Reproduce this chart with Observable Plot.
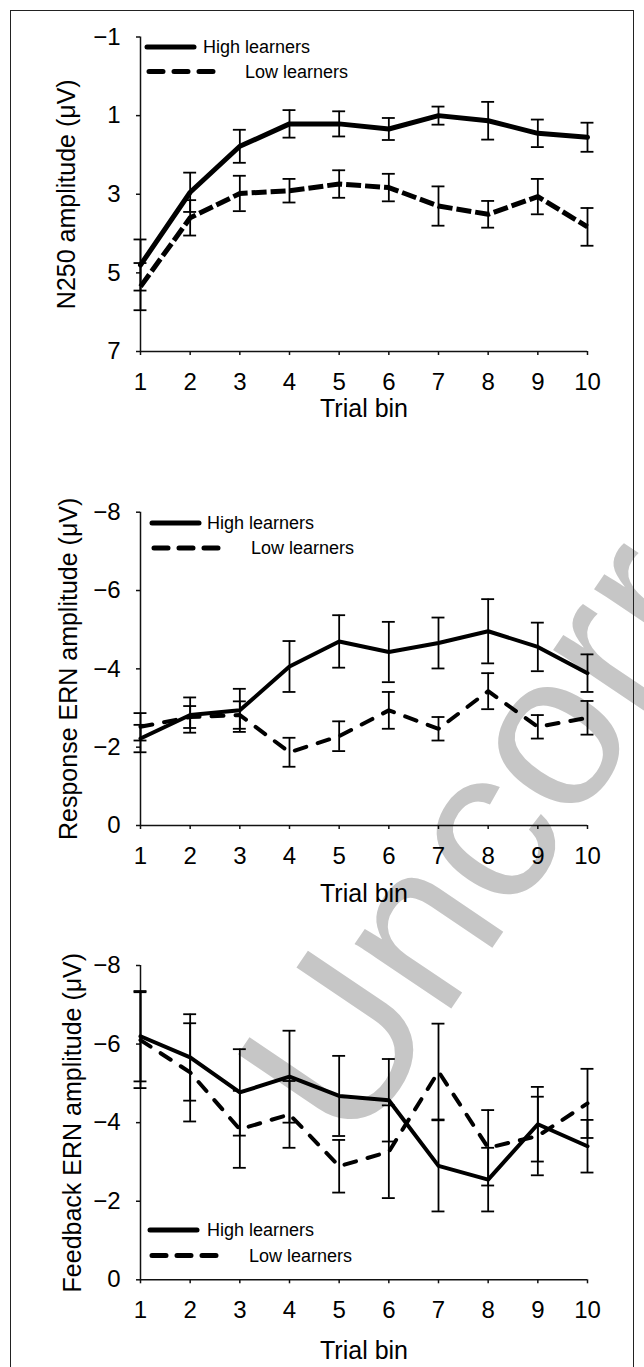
<!DOCTYPE html>
<html><head><meta charset="utf-8">
<script src="https://cdn.jsdelivr.net/npm/d3@7"></script>
<script src="https://cdn.jsdelivr.net/npm/@observablehq/plot@0.6"></script>
<style>
html,body{margin:0;padding:0;background:#fff;}
#page{position:relative;width:644px;height:1367px;overflow:hidden;background:#fff;font-family:"Liberation Sans",Arial,sans-serif;}
#frame{position:absolute;left:10px;top:10px;width:624px;height:1420px;border:1.5px solid #222;box-sizing:border-box;}
.layer{position:absolute;left:0;top:0;}
.panel{position:absolute;left:0;}
</style></head>
<body><div id="page">
<svg id="wm" class="layer" width="644" height="1367"></svg>
<div id="frame"></div>
<div id="p1" class="panel" style="top:0px"></div>
<div id="p2" class="panel" style="top:440px"></div>
<div id="p3" class="panel" style="top:910px"></div>
<svg id="legend" class="layer" width="644" height="1367"></svg>
</div>
<script>
// ---- data ----
const bins = [1, 2, 3, 4, 5, 6, 7, 8, 9, 10];
const groups = ["High learners", "Low learners"];

const n250High    = [4.80, 2.95, 1.78, 1.21, 1.21, 1.34, 1.00, 1.13, 1.45, 1.55];
const n250HighErr = [0.65, 0.50, 0.42, 0.35, 0.32, 0.28, 0.23, 0.48, 0.35, 0.37];
const n250Low     = [5.35, 3.60, 2.98, 2.91, 2.74, 2.83, 3.30, 3.51, 3.06, 3.83];
const n250LowErr  = [0.60, 0.45, 0.45, 0.30, 0.35, 0.35, 0.50, 0.34, 0.45, 0.48];

const ernHigh     = [-2.22, -2.82, -2.94, -4.06, -4.70, -4.43, -4.66, -4.96, -4.56, -3.89];
const ernHighErr  = [0.35, 0.45, 0.55, 0.65, 0.67, 0.77, 0.65, 0.82, 0.62, 0.48];
const ernLow      = [-2.52, -2.77, -2.82, -1.87, -2.28, -2.94, -2.47, -3.43, -2.52, -2.75];
const ernLowErr   = [0.35, 0.28, 0.35, 0.37, 0.38, 0.47, 0.30, 0.46, 0.30, 0.43];

const fbHigh      = [-6.20, -5.66, -4.77, -5.17, -4.68, -4.57, -2.90, -2.55, -3.96, -3.40];
const fbHighErr   = [1.15, 1.10, 1.10, 1.17, 1.02, 1.05, 1.16, 0.81, 0.95, 0.67];
const fbLow       = [-6.10, -5.28, -3.83, -4.21, -2.89, -3.26, -5.30, -3.36, -3.66, -4.49];
const fbLowErr    = [1.22, 1.25, 0.98, 0.85, 0.67, 1.18, 1.22, 0.96, 1.00, 0.88];

const n250Ticks = [-1, 1, 3, 5, 7];
const ernTicks  = [-8, -6, -4, -2, 0];
const fbTicks   = [-8, -6, -4, -2, 0];

const xTitle = "Trial bin";
const yTitles = ["N250 amplitude (\u03bcV)", "Response ERN amplitude (\u03bcV)", "Feedback ERN amplitude (\u03bcV)"];
const watermarkText = "Uncorrected";

// ---- helpers ----
const FONT = "'Liberation Sans', Arial, Helvetica, sans-serif";
const fmt = d => d < 0 ? "\u2212" + Math.abs(d) : String(d);
function rows(mean, err, group) {
  return bins.map((b, i) => ({bin: b, mean: mean[i], lo: mean[i] - err[i], hi: mean[i] + err[i], group}));
}

function panel(o) {
  const hi = rows(o.high, o.highErr, groups[0]);
  const lo = rows(o.low, o.lowErr, groups[1]);
  const all = hi.concat(lo);
  const cap = 0.13;
  const bottomVal = o.ticks[o.ticks.length - 1];
  return Plot.plot({
    width: 644, height: o.height,
    marginLeft: 140, marginRight: 57, marginTop: o.mt, marginBottom: o.mb,
    style: {background: "transparent", fontFamily: FONT, color: "#000", overflow: "visible"},
    x: {domain: [1, 10], axis: null},
    y: {domain: [o.ticks[0], bottomVal], reverse: true, axis: null},
    marks: [
      Plot.ruleX([1], {stroke: "#111", strokeWidth: 1.5}),
      Plot.ruleY([bottomVal], {stroke: "#111", strokeWidth: 1.5}),
      Plot.axisY({ticks: o.ticks, tickSize: 4, tickPadding: 16, fontSize: 24, tickFormat: fmt, label: null, stroke: "#111", strokeWidth: 1.5}),
      Plot.axisX({ticks: bins, tickSize: 4, tickPadding: 17, fontSize: 24, tickFormat: d => String(d), label: null, stroke: "#111", strokeWidth: 1.5}),
      Plot.text([xTitle], {frameAnchor: "bottom", lineAnchor: "middle", dy: o.titleDy, fontSize: 25, fill: "#000"}),
      Plot.text([o.yTitle], {frameAnchor: "left", textAnchor: "middle", lineAnchor: "middle", rotate: -90, dx: o.yDx, fontSize: 25, fill: "#000"}),
      Plot.ruleX(all, {x: "bin", y1: "lo", y2: "hi", stroke: "#000", strokeWidth: 1.8}),
      Plot.ruleY(all, {y: "lo", x1: d => d.bin - cap, x2: d => d.bin + cap, stroke: "#000", strokeWidth: 1.8}),
      Plot.ruleY(all, {y: "hi", x1: d => d.bin - cap, x2: d => d.bin + cap, stroke: "#000", strokeWidth: 1.8}),
      Plot.line(hi, {x: "bin", y: "mean", stroke: "#000", strokeWidth: o.lw, strokeLinejoin: "round"}),
      Plot.line(lo, {x: "bin", y: "mean", stroke: "#000", strokeWidth: o.lw, strokeLinejoin: "round",
                     strokeDasharray: o.dash, strokeLinecap: o.cap})
    ]
  });
}

document.getElementById("p1").appendChild(panel({
  high: n250High, highErr: n250HighErr, low: n250Low, lowErr: n250LowErr,
  ticks: n250Ticks, yTitle: yTitles[0], height: 440, mt: 36.5, mb: 89,
  titleDy: 57, yDx: -74, lw: 5, dash: "15,4", cap: "butt"
}));
document.getElementById("p2").appendChild(panel({
  high: ernHigh, highErr: ernHighErr, low: ernLow, lowErr: ernLowErr,
  ticks: ernTicks, yTitle: yTitles[1], height: 470, mt: 71.7, mb: 85,
  titleDy: 68, yDx: -72, lw: 4, dash: "12,12", cap: "round"
}));
document.getElementById("p3").appendChild(panel({
  high: fbHigh, highErr: fbHighErr, low: fbLow, lowErr: fbLowErr,
  ticks: fbTicks, yTitle: yTitles[2], height: 457, mt: 55, mb: 87.7,
  titleDy: 71, yDx: -68, lw: 4, dash: "12,12", cap: "round"
}));

// ---- watermark (behind) ----
d3.select("#wm").append("text")
  .attr("transform", "translate(354,1153) rotate(-56)")
  .attr("font-family", FONT).attr("font-size", 220)
  .attr("fill", "#c6c6c6").text(watermarkText);

// ---- legends (overlay) ----
const legendPos = [
  {x: 147, y1: 47, y2: 71.5, t1: 203, t2: 245},
  {x: 152, y1: 523, y2: 548, t1: 207, t2: 251},
  {x: 150, y1: 1230, y2: 1255.5, t1: 207, t2: 249}
];
const lg = d3.select("#legend");
legendPos.forEach(p => {
  lg.append("line").attr("x1", p.x).attr("x2", p.x + 47).attr("y1", p.y1).attr("y2", p.y1)
    .attr("stroke", "#000").attr("stroke-width", 5).attr("stroke-linecap", "round");
  lg.append("line").attr("x1", p.x + 2).attr("x2", p.x + 68).attr("y1", p.y2).attr("y2", p.y2)
    .attr("stroke", "#000").attr("stroke-width", 5).attr("stroke-linecap", "round")
    .attr("stroke-dasharray", "14,11");
  lg.append("text").attr("x", p.t1).attr("y", p.y1).attr("dy", "0.36em")
    .attr("font-family", FONT).attr("font-size", 18).text(groups[0]);
  lg.append("text").attr("x", p.t2).attr("y", p.y2).attr("dy", "0.36em")
    .attr("font-family", FONT).attr("font-size", 18).text(groups[1]);
});
</script>
</body></html>
